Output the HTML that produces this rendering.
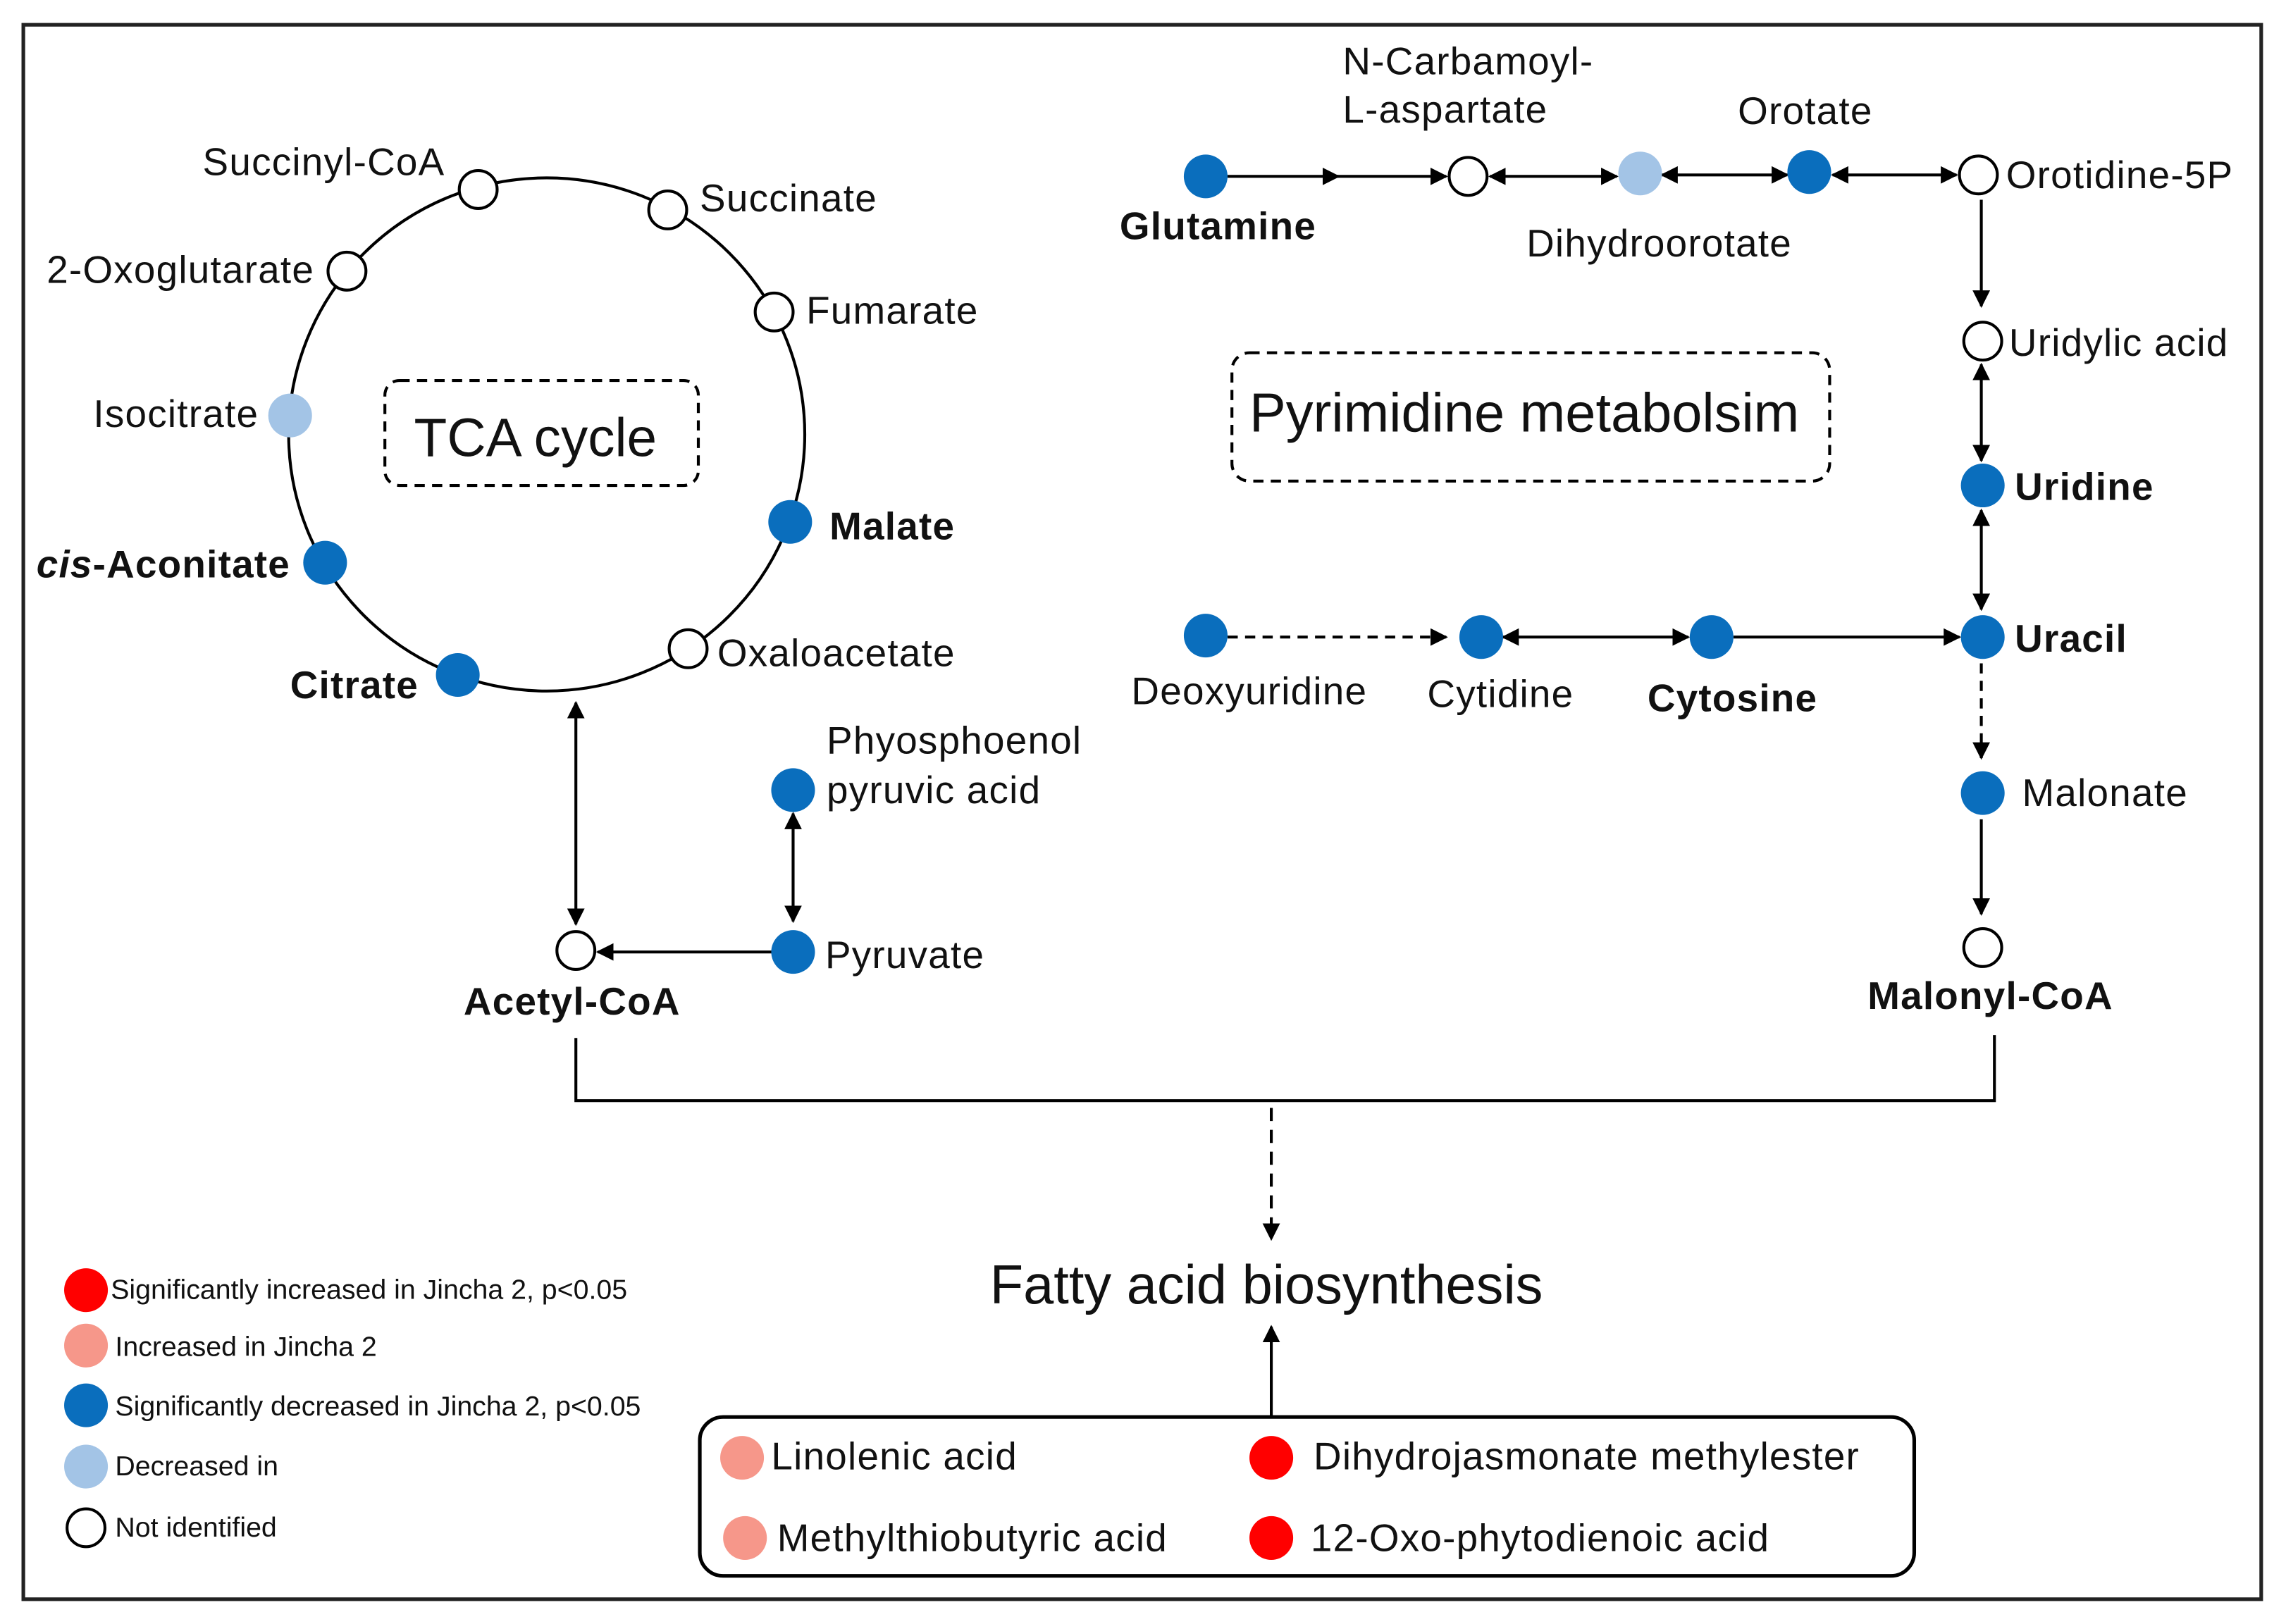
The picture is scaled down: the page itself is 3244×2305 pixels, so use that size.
<!DOCTYPE html>
<html><head><meta charset="utf-8"><style>html,body{margin:0;padding:0;background:#fff}svg{display:block}text{font-family:"Liberation Sans",Arial,sans-serif;fill:#111}</style></head>
<body>
<svg width="3244" height="2305" viewBox="0 0 1568 1114" preserveAspectRatio="none" xmlns="http://www.w3.org/2000/svg">
<defs>
<marker id="a" viewBox="0 0 10 10" refX="9" refY="5" markerWidth="6" markerHeight="6" orient="auto-start-reverse"><path d="M0,0L10,5L0,10z" fill="#000"/></marker>
</defs>
<rect x="0" y="0" width="1568" height="1114" fill="#fff"/>
<rect x="16" y="17" width="1535" height="1080" fill="none" stroke="#222" stroke-width="2.5"/>
<g stroke="#000" stroke-width="2" fill="none">
<ellipse cx="375" cy="298" rx="177" ry="176"/>
<rect x="264" y="261" width="215" height="72" rx="10" stroke-dasharray="7,5"/>
<rect x="845" y="242" width="410" height="88" rx="12" stroke-dasharray="7,5"/>
<line x1="395" y1="482" x2="395" y2="634" marker-start="url(#a)" marker-end="url(#a)"/>
<line x1="530" y1="653" x2="410" y2="653" marker-end="url(#a)"/>
<line x1="544" y1="558" x2="544" y2="632" marker-start="url(#a)" marker-end="url(#a)"/>
<polyline points="395,712 395,755 1368,755 1368,710"/>
<line x1="872" y1="760" x2="872" y2="850" stroke-dasharray="9,6" marker-end="url(#a)"/>
<line x1="872" y1="972" x2="872" y2="910" marker-end="url(#a)"/>
<line x1="842" y1="121" x2="918" y2="121" marker-end="url(#a)"/>
<line x1="915" y1="121" x2="992" y2="121" marker-end="url(#a)"/>
<line x1="1022" y1="121" x2="1109" y2="121" marker-start="url(#a)" marker-end="url(#a)"/>
<line x1="1140" y1="120" x2="1226" y2="120" marker-start="url(#a)" marker-end="url(#a)"/>
<line x1="1257" y1="120" x2="1342" y2="120" marker-start="url(#a)" marker-end="url(#a)"/>
<line x1="1359" y1="137" x2="1359" y2="210" marker-end="url(#a)"/>
<line x1="1359" y1="250" x2="1359" y2="316" marker-start="url(#a)" marker-end="url(#a)"/>
<line x1="1359" y1="350" x2="1359" y2="418" marker-start="url(#a)" marker-end="url(#a)"/>
<line x1="1359" y1="455" x2="1359" y2="520" stroke-dasharray="7,5" marker-end="url(#a)"/>
<line x1="1359" y1="562" x2="1359" y2="627" marker-end="url(#a)"/>
<line x1="842" y1="437" x2="992" y2="437" stroke-dasharray="7,5" marker-end="url(#a)"/>
<line x1="1031" y1="437" x2="1158" y2="437" marker-start="url(#a)" marker-end="url(#a)"/>
<line x1="1189" y1="437" x2="1344" y2="437" marker-end="url(#a)"/>
<rect x="480" y="972" width="833" height="109" rx="16" stroke-width="2.5"/>
</g>
<g stroke="#000" stroke-width="2">
<circle cx="328" cy="130" r="13" fill="#fff"/>
<circle cx="458" cy="144" r="13" fill="#fff"/>
<circle cx="238" cy="186" r="13" fill="#fff"/>
<circle cx="531" cy="214" r="13" fill="#fff"/>
<circle cx="472" cy="445" r="13" fill="#fff"/>
<circle cx="395" cy="652" r="13" fill="#fff"/>
<circle cx="1007" cy="121" r="13" fill="#fff"/>
<circle cx="1357" cy="120" r="13" fill="#fff"/>
<circle cx="1360" cy="234" r="13" fill="#fff"/>
<circle cx="1360" cy="650" r="13" fill="#fff"/>
<circle cx="59" cy="1048" r="13" fill="#fff"/>
</g>
<g stroke="none">
<circle cx="199" cy="285" r="15" fill="#a3c4e6"/>
<circle cx="1125" cy="119" r="15" fill="#a3c4e6"/>
<circle cx="59" cy="1006" r="15" fill="#a3c4e6"/>
<g fill="#0a6ebd">
<circle cx="223" cy="386" r="15"/><circle cx="314" cy="463" r="15"/><circle cx="542" cy="358" r="15"/>
<circle cx="544" cy="542" r="15"/><circle cx="544" cy="653" r="15"/>
<circle cx="827" cy="121" r="15"/><circle cx="1241" cy="118" r="15"/>
<circle cx="1360" cy="333" r="15"/><circle cx="1360" cy="437" r="15"/><circle cx="1360" cy="544" r="15"/>
<circle cx="827" cy="436" r="15"/><circle cx="1016" cy="437" r="15"/><circle cx="1174" cy="437" r="15"/>
<circle cx="59" cy="964" r="15"/>
</g>
<circle cx="59" cy="885" r="15" fill="#f00"/>
<circle cx="59" cy="923" r="15" fill="#f6978a"/>
<circle cx="509" cy="1000" r="15" fill="#f6978a"/>
<circle cx="511" cy="1055" r="15" fill="#f6978a"/>
<circle cx="872" cy="1000" r="15" fill="#f00"/>
<circle cx="872" cy="1055" r="15" fill="#f00"/>
</g>
<g font-size="26.5" letter-spacing="0.6">
<text x="139" y="120">Succinyl-CoA</text>
<text x="480" y="145">Succinate</text>
<text x="32" y="194">2-Oxoglutarate</text>
<text x="553" y="222">Fumarate</text>
<text x="64" y="293">Isocitrate</text>
<text x="492" y="457">Oxaloacetate</text>
<text x="567" y="517">Phyosphoenol</text>
<text x="567" y="551">pyruvic acid</text>
<text x="566" y="664">Pyruvate</text>
<text x="921" y="51">N-Carbamoyl-</text>
<text x="921" y="84">L-aspartate</text>
<text x="1192" y="85">Orotate</text>
<text x="1376" y="129">Orotidine-5P</text>
<text x="1047" y="176">Dihydroorotate</text>
<text x="1378" y="244">Uridylic acid</text>
<text x="776" y="483">Deoxyuridine</text>
<text x="979" y="485">Cytidine</text>
<text x="1387" y="553">Malonate</text>
<text x="529" y="1008">Linolenic acid</text>
<text x="533" y="1064">Methylthiobutyric acid</text>
<text x="901" y="1008">Dihydrojasmonate methylester</text>
<text x="899" y="1064">12-Oxo-phytodienoic acid</text>
</g>
<g font-size="26.5" font-weight="bold" letter-spacing="0.6">
<text x="25" y="396"><tspan font-style="italic">cis</tspan>-Aconitate</text>
<text x="199" y="479">Citrate</text>
<text x="569" y="370">Malate</text>
<text x="318" y="696">Acetyl-CoA</text>
<text x="768" y="164">Glutamine</text>
<text x="1382" y="343">Uridine</text>
<text x="1382" y="447">Uracil</text>
<text x="1130" y="488">Cytosine</text>
<text x="1281" y="692">Malonyl-CoA</text>
</g>
<text x="284" y="313" font-size="37">TCA cycle</text>
<text x="857" y="296" font-size="37.5">Pyrimidine metabolsim</text>
<text x="679" y="894" font-size="37.5">Fatty acid biosynthesis</text>
<g font-size="19">
<text x="76" y="891">Significantly increased in Jincha 2, p&lt;0.05</text>
<text x="79" y="930">Increased in Jincha 2</text>
<text x="79" y="971">Significantly decreased in Jincha 2, p&lt;0.05</text>
<text x="79" y="1012">Decreased in</text>
<text x="79" y="1054">Not identified</text>
</g>
</svg>
</body></html>
